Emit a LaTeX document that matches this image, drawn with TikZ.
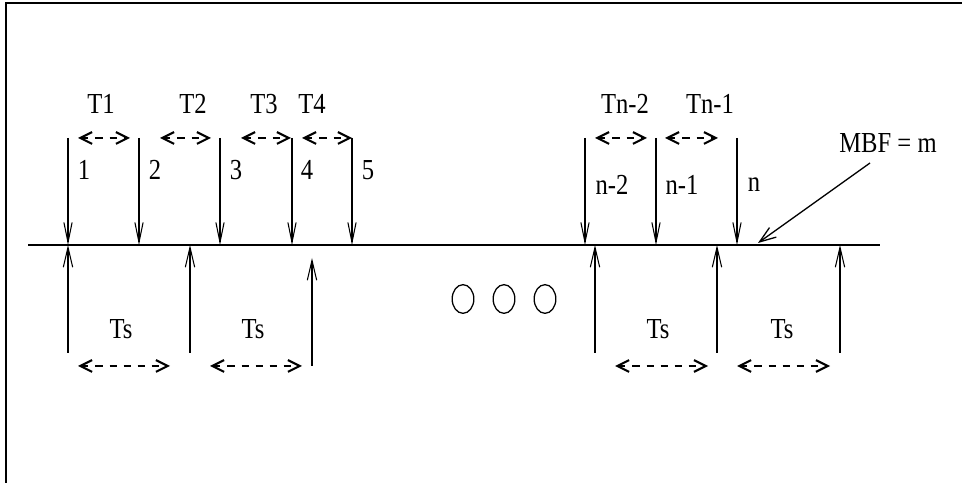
\documentclass[tikz,border=0pt]{standalone}
\usepackage{fontspec}
\setmainfont{Liberation Serif}
\usetikzlibrary{arrows.meta}
\usetikzlibrary{shapes.geometric}
\newcommand{\tallt}[1]{\scalebox{1}[1.18]{#1}}

\begin{document}
\begin{tikzpicture}[x=0.3cm, y=-0.3cm,
    pkt/.style={line width=0.9pt, -{Straight Barb[length=17pt, width=7pt]}},
    slot/.style={line width=0.9pt, -{Straight Barb[length=17pt, width=8pt]}},
    mbfarr/.style={line width=1.1pt, -{Straight Barb[length=14pt, width=10pt]}},
    span/.style={line width=1.8pt, dash pattern=on 6pt off 6pt,
      {Straight Barb[length=10pt, width=10pt]}-{Straight Barb[length=10pt, width=10pt]}},
    lbl/.style={inner sep=0pt, font=\fontsize{21}{25}\selectfont},
    dots/.style={draw, ellipse, line width=1.1pt, minimum width=0.65cm, minimum height=0.86cm, inner sep=0pt}]
      \def\arrtop{13.8}% where the packet arrows start
      \def\axis{24.5}
      \def\arrbot{35.3}
      \def\spanbot{36.6}
      \useasboundingbox (0,0) rectangle (96.2,48.3);
      % -------------------------------------------- frame and time axis
      \draw[line width=1.4pt] (0.6,48.3) -- (0.6,0.3) -- (96.2,0.3);
      \coordinate (axis_l) at (2.8,\axis);
      \coordinate (axis_r) at (88.0,\axis);
      \draw[line width=1.6pt] (axis_l) -- (axis_r);
      % -------------------------------------------- arriving packets
      % set the nodes
      \coordinate (pkt_1) at (6.8,\arrtop);
      \coordinate (pkt_2) at (13.9,\arrtop);
      \coordinate (pkt_3) at (22.0,\arrtop);
      \coordinate (pkt_4) at (29.2,\arrtop);
      \coordinate (pkt_5) at (35.2,\arrtop);
      \coordinate (pkt_n2) at (58.5,\arrtop);
      \coordinate (pkt_n1) at (65.6,\arrtop);
      \coordinate (pkt_n) at (73.7,\arrtop);
      \node[lbl] at (8.4,17.0) (num_1) {\tallt{1}};
      \node[lbl] at (15.5,17.0) (num_2) {\tallt{2}};
      \node[lbl] at (23.6,17.0) (num_3) {\tallt{3}};
      \node[lbl] at (30.7,17.0) (num_4) {\tallt{4}};
      \node[lbl] at (36.8,17.0) (num_5) {\tallt{5}};
      \node[lbl] at (61.2,18.5) (num_n2) {\tallt{n-2}};
      \node[lbl] at (68.2,18.5) (num_n1) {\tallt{n-1}};
      \node[lbl] at (75.4,18.5) (num_n) {\tallt{n}};
      % draw edges
      \draw[pkt] (pkt_1) -- (pkt_1 |- axis_l);
      \draw[pkt] (pkt_2) -- (pkt_2 |- axis_l);
      \draw[pkt] (pkt_3) -- (pkt_3 |- axis_l);
      \draw[pkt] (pkt_4) -- (pkt_4 |- axis_l);
      \draw[pkt] (pkt_5) -- (pkt_5 |- axis_l);
      \draw[pkt] (pkt_n2) -- (pkt_n2 |- axis_l);
      \draw[pkt] (pkt_n1) -- (pkt_n1 |- axis_l);
      \draw[pkt] (pkt_n) -- (pkt_n |- axis_l);
      % -------------------------------------------- inter-arrival times
      \node[lbl] at (10.1,10.4) (t_1) {\tallt{T1}};
      \node[lbl] at (19.3,10.4) (t_2) {\tallt{T2}};
      \node[lbl] at (26.4,10.4) (t_3) {\tallt{T3}};
      \node[lbl] at (31.2,10.4) (t_4) {\tallt{T4}};
      \node[lbl] at (62.5,10.4) (t_n2) {\tallt{Tn-2}};
      \node[lbl] at (71.0,10.4) (t_n1) {\tallt{Tn-1}};
      \coordinate (t1_l) at (7.8,\arrtop);  \coordinate (t1_r) at (13.0,\arrtop);
      \coordinate (t2_l) at (16.0,\arrtop); \coordinate (t2_r) at (21.1,\arrtop);
      \coordinate (t3_l) at (24.1,\arrtop); \coordinate (t3_r) at (29.1,\arrtop);
      \coordinate (t4_l) at (30.2,\arrtop); \coordinate (t4_r) at (35.2,\arrtop);
      \coordinate (tn2_l) at (59.5,\arrtop); \coordinate (tn2_r) at (64.7,\arrtop);
      \coordinate (tn1_l) at (66.5,\arrtop); \coordinate (tn1_r) at (71.8,\arrtop);
      \draw[span] (t1_l) -- (t1_r);
      \draw[span] (t2_l) -- (t2_r);
      \draw[span] (t3_l) -- (t3_r);
      \draw[span] (t4_l) -- (t4_r);
      \draw[span] (tn2_l) -- (tn2_r);
      \draw[span] (tn1_l) -- (tn1_r);
      % -------------------------------------------- service slots
      \coordinate (slot_1) at (6.8,\arrbot);
      \coordinate (slot_2) at (19.0,\arrbot);
      \coordinate (slot_3) at (31.2,\spanbot);
      \coordinate (slot_3_tip) at (31.2,25.8);
      \coordinate (slot_4) at (59.5,\arrbot);
      \coordinate (slot_5) at (71.7,\arrbot);
      \coordinate (slot_6) at (84.0,\arrbot);
      \draw[slot] (slot_1) -- (slot_1 |- axis_l);
      \draw[slot] (slot_2) -- (slot_2 |- axis_l);
      \draw[slot] (slot_3) -- (slot_3_tip);
      \draw[slot] (slot_4) -- (slot_4 |- axis_l);
      \draw[slot] (slot_5) -- (slot_5 |- axis_l);
      \draw[slot] (slot_6) -- (slot_6 |- axis_l);
      \node[lbl] at (12.1,32.9) (ts_1) {\tallt{Ts}};
      \node[lbl] at (25.3,32.9) (ts_2) {\tallt{Ts}};
      \node[lbl] at (65.8,32.9) (ts_3) {\tallt{Ts}};
      \node[lbl] at (78.2,32.9) (ts_4) {\tallt{Ts}};
      \coordinate (ts1_l) at (7.8,\spanbot);  \coordinate (ts1_r) at (17.0,\spanbot);
      \coordinate (ts2_l) at (21.0,\spanbot); \coordinate (ts2_r) at (30.2,\spanbot);
      \coordinate (ts3_l) at (61.5,\spanbot); \coordinate (ts3_r) at (70.8,\spanbot);
      \coordinate (ts4_l) at (73.7,\spanbot); \coordinate (ts4_r) at (83.0,\spanbot);
      \draw[span] (ts1_l) -- (ts1_r);
      \draw[span] (ts2_l) -- (ts2_r);
      \draw[span] (ts3_l) -- (ts3_r);
      \draw[span] (ts4_l) -- (ts4_r);
      % -------------------------------------------- gap and MBF
      \node[dots] at (46.3,29.9) (gap_1) {};
      \node[dots] at (50.4,29.9) (gap_2) {};
      \node[dots] at (54.5,29.9) (gap_3) {};
      \node[lbl] at (88.8,14.3) (mbf) {\tallt{MBF = m}};
      \coordinate (mbf_tail) at (87.0,16.3);
      \coordinate (mbf_tip) at (75.8,24.3);
      \draw[mbfarr] (mbf_tail) -- (mbf_tip);
    \end{tikzpicture}
\end{document}
